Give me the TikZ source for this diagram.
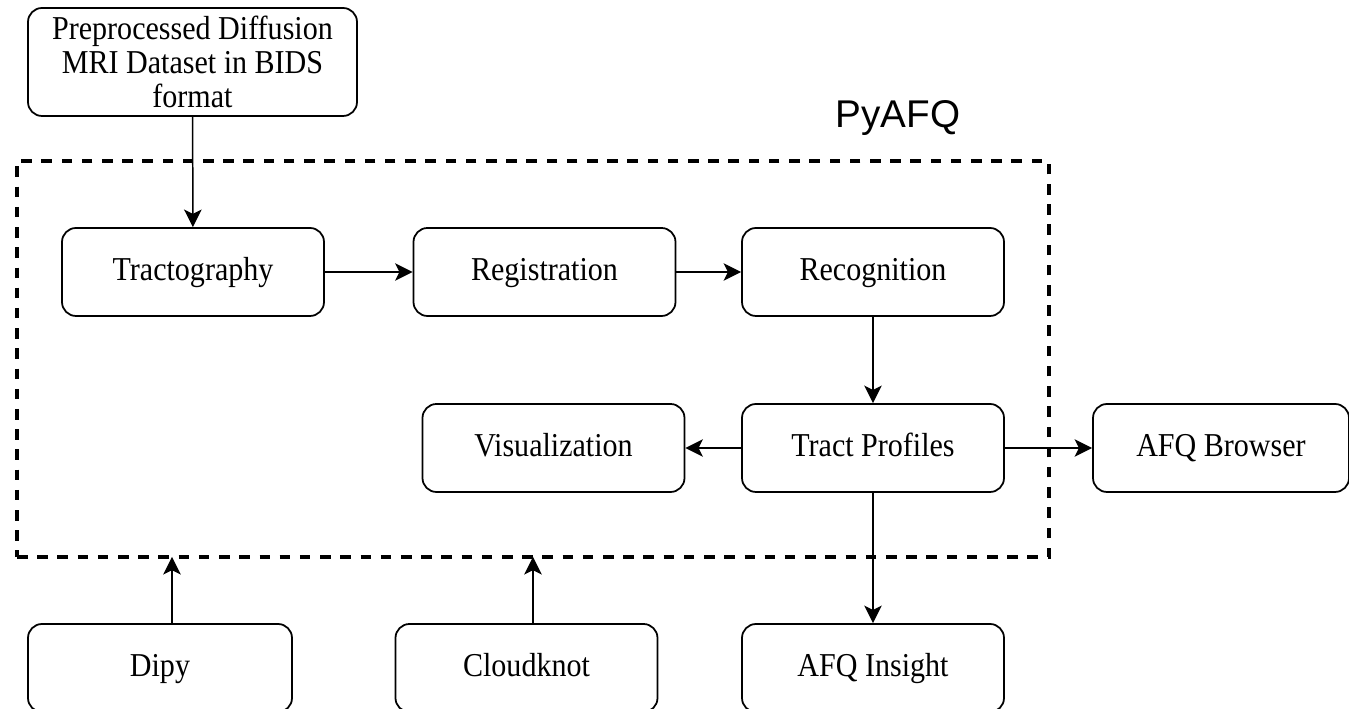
\documentclass[tikz,border=0pt]{standalone}
\usepackage{fontspec}
\setmainfont[FakeStretch=0.9]{Liberation Serif}
\newfontfamily\labelfont{Liberation Sans}
\usetikzlibrary{arrows, arrows.meta}

\begin{document}
\begin{tikzpicture}[
  stepbox/.style={draw, line width=1pt, rounded corners=0.28cm, minimum width=5.24cm, minimum height=1.76cm, align=center, text height=13.5pt, text depth=3.5pt, font=\fontsize{19}{19.3}\selectfont},
  pyafqbox/.style={draw, line width=2.2pt, dash pattern=on 6pt off 5.5pt, minimum width=20.64cm, minimum height=7.92cm},
  flow/.style={line width=0.85pt, -{Stealth[length=10pt,width=10pt,inset=2.5pt]}}
]
\useasboundingbox (0,0) rectangle (26.98,14.18);

%\draw[step=1cm,gray,very thin] (0,0) grid (27,14); %background grid
\node[pyafqbox] (pyafq) at (10.66,7.00) {}; %dashed frame
\node[font=\labelfont\fontsize{22}{24}\selectfont] (pyafqlabel) at (17.96,11.82) {PyAFQ};

\node[stepbox, minimum width=6.58cm, minimum height=2.16cm, text height=, text depth=] (data) at (3.85,12.94) {Preprocessed Diffusion\\MRI Dataset in BIDS\\format};

\node[stepbox] (tracto)  at (3.86,8.74)  {Tractography};
\node[stepbox] (regis)   at (10.89,8.74) {Registration};
\node[stepbox] (recog)   at (17.46,8.74) {Recognition};
\node[stepbox] (visual)  at (11.07,5.22) {Visualization};
\node[stepbox] (profile) at (17.46,5.22) {Tract Profiles};
\node[stepbox, minimum width=5.12cm] (browser) at (24.42,5.22) {AFQ Browser};
\node[stepbox, minimum width=5.28cm] (dipy)    at (3.20,0.82)  {Dipy};
\node[stepbox] (cloud)   at (10.53,0.82) {Cloudknot};
\node[stepbox] (insight) at (17.46,0.82) {AFQ Insight};

\coordinate (dipyin)  at (3.44,3.04);  %arrow from Dipy
\coordinate (cloudin) at (10.66,3.04); %arrow from Cloudknot

\draw[flow] (data) -- (tracto);
\draw[flow] (tracto) -- (regis);
\draw[flow] (regis) -- (recog);
\draw[flow] (recog) -- (profile);
\draw[flow] (profile) -- (visual);
\draw[flow] (profile) -- (browser);
\draw[flow] (profile) -- (insight);
\draw[flow] (dipy.north -| dipyin) -- (dipyin);
\draw[flow] (cloud.north -| cloudin) -- (cloudin);
\end{tikzpicture}
\end{document}
